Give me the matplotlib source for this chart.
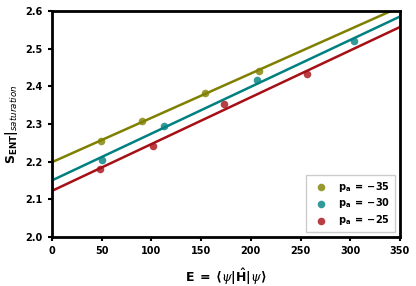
import matplotlib
matplotlib.use('Agg')
import matplotlib.pyplot as plt
import numpy as np

# energies and saturation entropies
e_35 = [49, 91, 154, 208]
s_35 = [2.255, 2.307, 2.382, 2.442]
e_30 = [50, 113, 206, 304]
s_30 = [2.205, 2.296, 2.416, 2.521]
e_25 = [48, 102, 173, 256]
s_25 = [2.182, 2.242, 2.352, 2.434]

labels = [r'$\mathbf{p_a}\;=\;{-}\mathbf{35}$', r'$\mathbf{p_a}\;=\;{-}\mathbf{30}$', r'$\mathbf{p_a}\;=\;{-}\mathbf{25}$']
colors = ['#808000', '#008080', '#a50f15']

plt.rcParams['font.weight'] = 'bold'
plt.rcParams['mathtext.fontset'] = 'custom'
plt.rcParams['mathtext.rm'] = 'DejaVu Sans:bold'
plt.rcParams['mathtext.bf'] = 'DejaVu Sans:bold'
plt.rcParams['mathtext.it'] = 'DejaVu Serif:style=italic:weight=normal'
plt.rcParams['mathtext.sf'] = 'DejaVu Sans:style=italic:weight=normal'

fig = plt.figure(figsize=(4.16, 2.86), dpi=100)
ax = fig.add_axes([0.125, 0.171, 0.8365, 0.7905])

xx = np.array([0, 350])
for e, s, lab, c in zip([e_35, e_30, e_25], [s_35, s_30, s_25], labels, colors):
    ax.scatter(e, s, color=c, s=30, alpha=0.8, linewidths=0, label=lab, zorder=3)
    k, b = np.polyfit(e, s, 1)
    ax.plot(xx, k * xx + b, color=c, lw=1.8)

ax.set_xlim(0, 350)
ax.set_ylim(2.0, 2.6)
ax.set_xticks(range(0, 351, 50))
ax.set_yticks([2.0, 2.1, 2.2, 2.3, 2.4, 2.5, 2.6])
ax.tick_params(labelsize=7, width=1.5, length=3)
for sp in ax.spines.values():
    sp.set_linewidth(2)

ax.set_xlabel(r'$\mathbf{E}\;=\;\langle\psi|\hat{\mathbf{H}}|\psi\rangle$', fontsize=9, labelpad=8)
ax.set_ylabel(r'$\mathbf{S_{ENT}}|_{\mathsf{saturation}}$', fontsize=9)

ax.legend(loc='lower right', fontsize=7, handletextpad=0.8, borderpad=0.5,
          fancybox=False, framealpha=1, labelspacing=0.3)

fig.savefig('out.png', dpi=100)
